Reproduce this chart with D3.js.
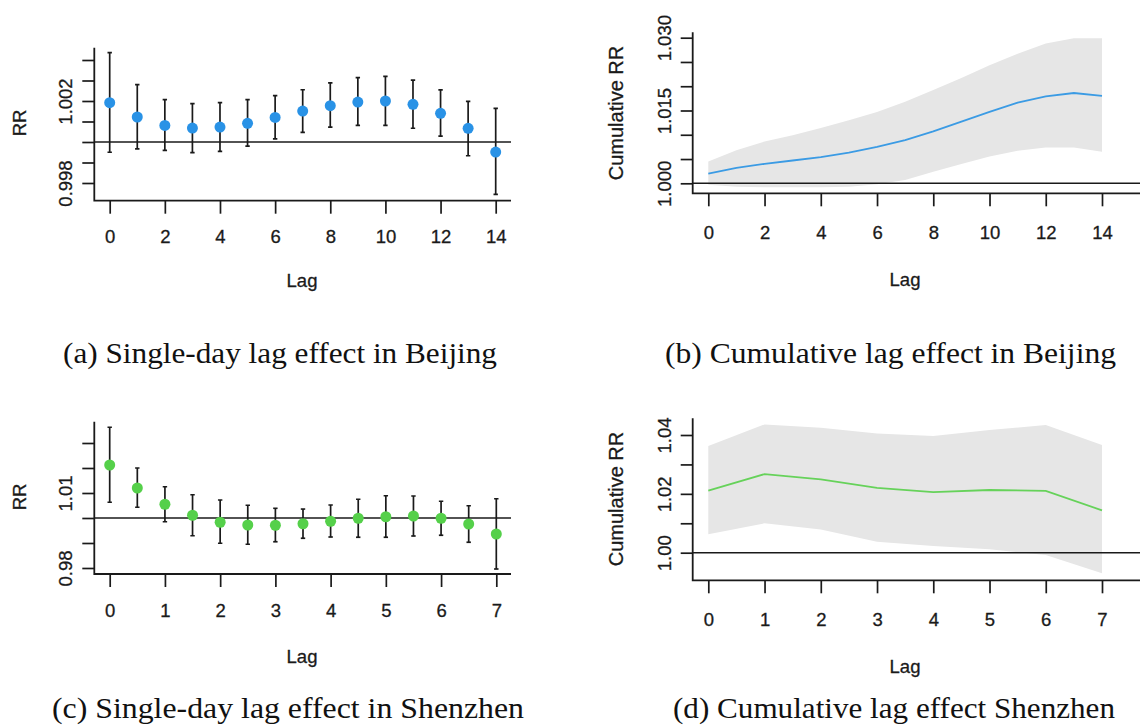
<!DOCTYPE html>
<html>
<head>
<meta charset="utf-8">
<script src="https://cdn.jsdelivr.net/npm/d3@7"></script>
<style>
  html, body { margin: 0; padding: 0; background: #ffffff; }
  svg { display: block; }
</style>
</head>
<body>
<svg id="chart" width="1140" height="726"></svg>
<script>
// ---------- DATA ----------
// (a) Single-day lag effect, Beijing
const lagA  = [0,1,2,3,4,5,6,7,8,9,10,11,12,13,14];
const rrA   = [1.00192,1.00122,1.00081,1.00068,1.00073,1.00091,1.00120,1.00151,1.00177,1.00195,1.00200,1.00184,1.00140,1.00067,0.99951];
const rrAlo = [0.99950,0.99966,0.99959,0.99948,0.99954,0.99980,1.00015,1.00047,1.00073,1.00081,1.00081,1.00067,1.00029,0.99933,0.99745];
const rrAhi = [1.00436,1.00280,1.00207,1.00187,1.00192,1.00207,1.00226,1.00255,1.00288,1.00314,1.00320,1.00302,1.00254,1.00198,1.00164];
const yTicksA  = [0.998,0.999,1.000,1.001,1.002,1.003,1.004];
const yLabelsA = [0.998,1.002];
const xTicksA  = [0,2,4,6,8,10,12,14];

// (b) Cumulative lag effect, Beijing
const lagB   = [0,1,2,3,4,5,6,7,8,9,10,11,12,13,14];
const cumB   = [1.0020,1.0032,1.0040,1.0047,1.0054,1.0063,1.0075,1.0089,1.0107,1.0127,1.0147,1.0166,1.0179,1.0186,1.0180];
const cumBlo = [0.9997,0.9993,0.9992,0.9992,0.9992,0.9993,0.9998,1.0007,1.0024,1.0040,1.0055,1.0067,1.0074,1.0074,1.0065];
const cumBhi = [1.0045,1.0068,1.0086,1.0099,1.0114,1.0130,1.0147,1.0168,1.0192,1.0217,1.0243,1.0267,1.0288,1.0299,1.0299];
const yTicksB  = [1.000,1.005,1.010,1.015,1.020,1.025,1.030];
const yLabelsB = [1.000,1.015,1.030];
const xTicksB  = [0,2,4,6,8,10,12,14];

// (c) Single-day lag effect, Shenzhen
const lagC  = [0,0.5,1,1.5,2,2.5,3,3.5,4,4.5,5,5.5,6,6.5,7];
const rrC   = [1.0212,1.0120,1.0055,1.0011,0.9983,0.9972,0.9971,0.9977,0.9987,0.9999,1.0005,1.0008,0.9999,0.9976,0.9936];
const rrClo = [1.0063,1.0043,0.9985,0.9929,0.9899,0.9895,0.9905,0.9919,0.9924,0.9923,0.9923,0.9928,0.9931,0.9903,0.9796];
const rrChi = [1.0363,1.0200,1.0125,1.0093,1.0072,1.0051,1.0039,1.0036,1.0052,1.0075,1.0089,1.0088,1.0067,1.0049,1.0077];
const yTicksC  = [0.98,0.99,1.00,1.01,1.02,1.03];
const yLabelsC = [0.98,1.01];
const xTicksC  = [0,1,2,3,4,5,6,7];

// (d) Cumulative lag effect, Shenzhen
const lagD   = [0,1,2,3,4,5,6,7];
const cumD   = [1.0211,1.0267,1.0249,1.0220,1.0206,1.0213,1.0210,1.0144];
const cumDlo = [1.0063,1.0100,1.0079,1.0037,1.0023,1.0012,0.9992,0.9930];
const cumDhi = [1.0363,1.0436,1.0425,1.0405,1.0397,1.0417,1.0434,1.0366];
const yTicksD  = [1.00,1.01,1.02,1.03,1.04];
const yLabelsD = [1.00,1.02,1.04];
const xTicksD  = [0,1,2,3,4,5,6,7];

const captions = [
  "(a) Single-day lag effect in Beijing",
  "(b) Cumulative lag effect in Beijing",
  "(c) Single-day lag effect in Shenzhen",
  "(d) Cumulative lag effect Shenzhen"
];

// ---------- STYLE ----------
const BLUE_DOT = "#2992e6", BLUE_LINE = "#3b9be4";
const GREEN_DOT = "#55d04a", GREEN_LINE = "#66d25a";
const BAND = "#e6e6e6", INK = "#1a1a1a";
const SANS = "'Liberation Sans', Arial, Helvetica, sans-serif";
const SERIF = "'Liberation Serif', 'Times New Roman', serif";
const FS = 18.5;

const svg = d3.select("#chart");

function styleText(sel, size) {
  sel.attr("fill", INK).attr("stroke", INK).attr("stroke-width", 0.3)
    .style("font-family", SANS).style("font-size", size + "px");
}

function panel(cfg) {
  const g = svg.append("g");
  const x = d3.scaleLinear().domain(cfg.xDomain).range(cfg.xRange);
  const y = d3.scaleLinear().domain(cfg.yDomain).range(cfg.yRange);
  const b = cfg.box;

  const clipId = "clip" + cfg.id;
  svg.append("clipPath").attr("id", clipId)
    .append("rect").attr("x", b.l).attr("y", b.t).attr("width", b.r - b.l).attr("height", b.b - b.t);

  const plot = g.append("g").attr("clip-path", `url(#${clipId})`);
  const rows = cfg.lag.map((d, i) => ({ x: d, v: cfg.val[i], lo: cfg.lo[i], hi: cfg.hi[i] }));

  if (cfg.type === "band") {
    plot.append("path").datum(rows)
      .attr("d", d3.area().x(d => x(d.x)).y0(d => y(d.lo)).y1(d => y(d.hi)))
      .attr("fill", BAND);
    plot.append("line").attr("x1", b.l).attr("x2", b.r).attr("y1", y(1)).attr("y2", y(1))
      .attr("stroke", INK).attr("stroke-width", 1.6);
    plot.append("path").datum(rows)
      .attr("d", d3.line().x(d => x(d.x)).y(d => y(d.v)))
      .attr("fill", "none").attr("stroke", cfg.color).attr("stroke-width", 1.8);
  } else {
    plot.append("line").attr("x1", b.l).attr("x2", b.r).attr("y1", y(1)).attr("y2", y(1))
      .attr("stroke", INK).attr("stroke-width", 1.6);
    const eb = plot.selectAll("g.eb").data(rows).enter().append("g");
    eb.append("line").attr("x1", d => x(d.x)).attr("x2", d => x(d.x))
      .attr("y1", d => y(d.lo)).attr("y2", d => y(d.hi))
      .attr("stroke", INK).attr("stroke-width", 1.7);
    eb.append("line").attr("x1", d => x(d.x) - 2.2).attr("x2", d => x(d.x) + 2.2)
      .attr("y1", d => y(d.lo)).attr("y2", d => y(d.lo))
      .attr("stroke", INK).attr("stroke-width", 1.7);
    eb.append("line").attr("x1", d => x(d.x) - 2.2).attr("x2", d => x(d.x) + 2.2)
      .attr("y1", d => y(d.hi)).attr("y2", d => y(d.hi))
      .attr("stroke", INK).attr("stroke-width", 1.7);
    eb.append("circle").attr("cx", d => x(d.x)).attr("cy", d => y(d.v)).attr("r", 5.5)
      .attr("fill", cfg.color);
  }

  // L-shaped box
  g.append("path")
    .attr("d", `M${b.l},${b.t}V${b.b}H${b.r}`)
    .attr("fill", "none").attr("stroke", INK).attr("stroke-width", 1.8);

  // axes
  const labelSet = new Set(cfg.yLabels);
  const yAxis = d3.axisLeft(y).tickValues(cfg.yTicks).tickSize(12).tickSizeOuter(0)
    .tickFormat(d => labelSet.has(d) ? cfg.yFmt(d) : "");
  const ya = g.append("g").attr("transform", `translate(${b.l},0)`).call(yAxis);
  ya.select(".domain").remove();
  ya.selectAll(".tick line").attr("stroke", INK).attr("stroke-width", 1.7);
  styleText(ya.selectAll(".tick text")
    .attr("transform", "rotate(-90)")
    .attr("x", 0).attr("y", -22).attr("dy", 0)
    .attr("text-anchor", "middle"), FS);

  const xAxis = d3.axisBottom(x).tickValues(cfg.xTicks).tickSize(13).tickSizeOuter(0)
    .tickFormat(d3.format("d"));
  const xa = g.append("g").attr("transform", `translate(0,${b.b})`).call(xAxis);
  xa.select(".domain").remove();
  xa.selectAll(".tick line").attr("stroke", INK).attr("stroke-width", 1.7);
  styleText(xa.selectAll(".tick text")
    .attr("y", cfg.xLabelBase - b.b).attr("dy", 0), FS);

  // titles
  styleText(g.append("text").text("Lag")
    .attr("x", cfg.lagX).attr("y", cfg.lagBase).attr("text-anchor", "middle"), FS);
  styleText(g.append("text").text(cfg.yTitle)
    .attr("transform", `translate(${cfg.yTitleX},${cfg.yTitleY}) rotate(-90)`)
    .attr("text-anchor", "middle"), cfg.yTitleFS);

  // caption
  g.append("text").text(cfg.caption)
    .attr("x", cfg.capX).attr("y", cfg.capBase).attr("text-anchor", "middle")
    .attr("textLength", cfg.capW).attr("lengthAdjust", "spacingAndGlyphs")
    .attr("fill", "#111").style("font-family", SERIF).style("font-size", "29px");
}

panel({
  id: "a", type: "points", lag: lagA, val: rrA, lo: rrAlo, hi: rrAhi, color: BLUE_DOT,
  xDomain: [0, 14], xRange: [109.7, 495.7], yDomain: [0.998, 1.002], yRange: [183, 101],
  box: { l: 94.3, r: 511, t: 47.7, b: 200.7 },
  yTicks: yTicksA, yLabels: yLabelsA, yFmt: d3.format(".3f"), xTicks: xTicksA,
  xLabelBase: 243, lagX: 302, lagBase: 287, yTitle: "RR", yTitleFS: 18.5, yTitleX: 26, yTitleY: 123,
  caption: captions[0], capX: 280, capBase: 363, capW: 434
});

panel({
  id: "b", type: "band", lag: lagB, val: cumB, lo: cumBlo, hi: cumBhi, color: BLUE_LINE,
  xDomain: [0, 14], xRange: [708.3, 1102], yDomain: [1.000, 1.030], yRange: [183.3, 37.7],
  box: { l: 692.7, r: 1140, t: 32.3, b: 193.3 },
  yTicks: yTicksB, yLabels: yLabelsB, yFmt: d3.format(".3f"), xTicks: xTicksB,
  xLabelBase: 239, lagX: 905, lagBase: 286, yTitle: "Cumulative RR", yTitleFS: 20, yTitleX: 623, yTitleY: 113,
  caption: captions[1], capX: 890.5, capBase: 363, capW: 451
});

panel({
  id: "c", type: "points", lag: lagC, val: rrC, lo: rrClo, hi: rrChi, color: GREEN_DOT,
  xDomain: [0, 7], xRange: [109.7, 496.3], yDomain: [0.98, 1.01], yRange: [568, 493],
  box: { l: 94.3, r: 511, t: 421.7, b: 574 },
  yTicks: yTicksC, yLabels: yLabelsC, yFmt: d3.format(".2f"), xTicks: xTicksC,
  xLabelBase: 617, lagX: 302, lagBase: 663, yTitle: "RR", yTitleFS: 18.5, yTitleX: 26, yTitleY: 497,
  caption: captions[2], capX: 288, capBase: 718, capW: 472
});

panel({
  id: "d", type: "band", lag: lagD, val: cumD, lo: cumDlo, hi: cumDhi, color: GREEN_LINE,
  xDomain: [0, 7], xRange: [708.3, 1102], yDomain: [1.00, 1.04], yRange: [552.7, 435],
  box: { l: 692.7, r: 1140, t: 418.3, b: 580.3 },
  yTicks: yTicksD, yLabels: yLabelsD, yFmt: d3.format(".2f"), xTicks: xTicksD,
  xLabelBase: 626, lagX: 905, lagBase: 673, yTitle: "Cumulative RR", yTitleFS: 20, yTitleX: 623, yTitleY: 499,
  caption: captions[3], capX: 894, capBase: 718, capW: 442
});
</script>
</body>
</html>
